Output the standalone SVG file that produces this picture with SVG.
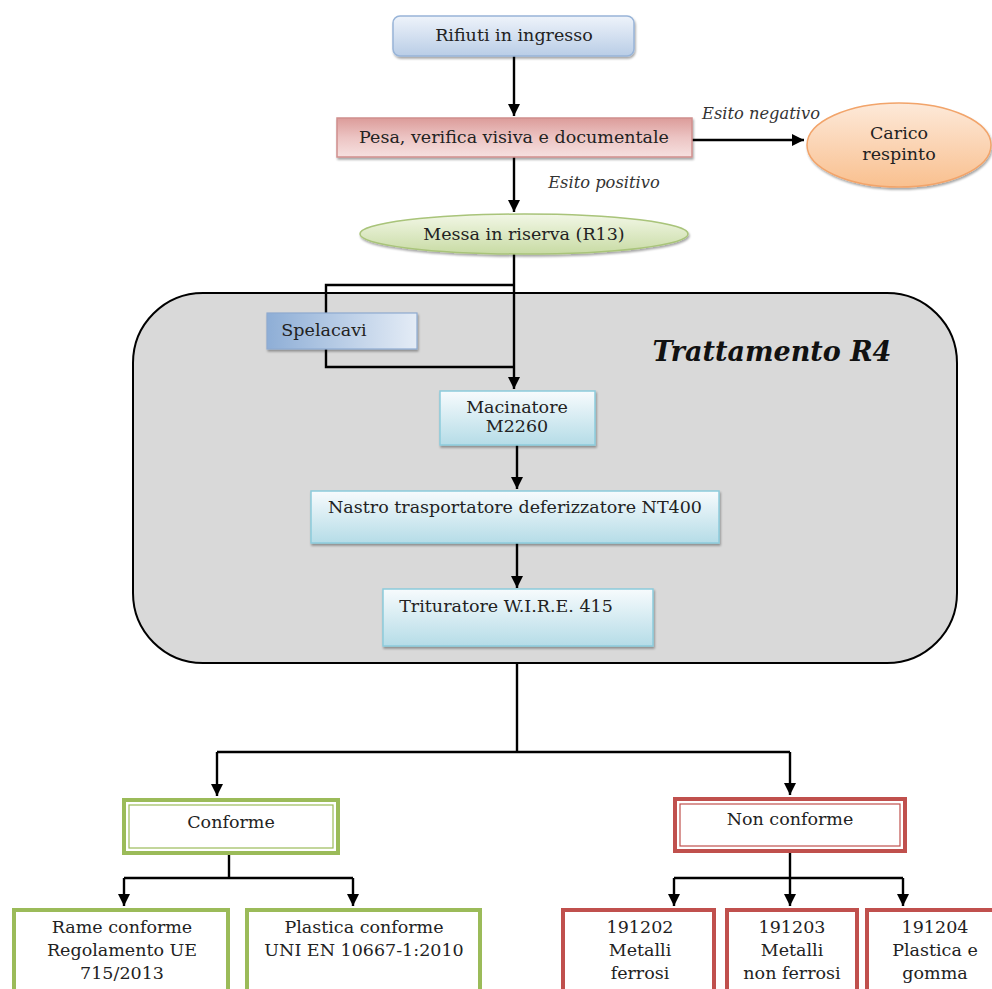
<svg xmlns="http://www.w3.org/2000/svg" width="992" height="989" viewBox="0 0 992 989">
<defs>
<linearGradient id="gBlue" x1="0" y1="0" x2="0" y2="1"><stop offset="0" stop-color="#eef3fa"/><stop offset="1" stop-color="#b9cde6"/></linearGradient>
<linearGradient id="gRed" x1="0" y1="0" x2="0" y2="1"><stop offset="0" stop-color="#dc9c9a"/><stop offset="0.5" stop-color="#ecc4c3"/><stop offset="1" stop-color="#f6e1e0"/></linearGradient>
<linearGradient id="gOrange" x1="0" y1="0" x2="0" y2="1"><stop offset="0" stop-color="#fde9d9"/><stop offset="1" stop-color="#f9c08f"/></linearGradient>
<linearGradient id="gGreen" x1="0" y1="0" x2="0" y2="1"><stop offset="0" stop-color="#f2f7e6"/><stop offset="1" stop-color="#c8dba4"/></linearGradient>
<linearGradient id="gSpel" x1="0" y1="0" x2="1" y2="0"><stop offset="0" stop-color="#8eaed6"/><stop offset="1" stop-color="#e4ecf6"/></linearGradient>
<linearGradient id="gCyan" x1="0" y1="0" x2="0" y2="1"><stop offset="0" stop-color="#f7fbfd"/><stop offset="1" stop-color="#b5dce7"/></linearGradient>
<filter id="sh" x="-10%" y="-10%" width="120%" height="140%"><feDropShadow dx="1" dy="2" stdDeviation="1" flood-color="#000" flood-opacity="0.35"/></filter>
<marker id="ar" viewBox="0 0 10 10" refX="10" refY="5" markerWidth="5" markerHeight="5" orient="auto" markerUnits="strokeWidth"><path d="M0,0 L10,5 L0,10 z" fill="#000"/></marker>
</defs>
<style>
text{font-family:"DejaVu Serif","Liberation Serif",serif;fill:#222;font-size:17.5px;text-anchor:middle}
.it{font-style:italic;font-size:16.3px;fill:#333}
.big{font-weight:bold;font-style:italic;font-size:27px;fill:#111}
.ln{fill:none;stroke:#000;stroke-width:2.4}
.cyan{fill:url(#gCyan);stroke:#8ccbdc;stroke-width:1.5}
.gr{fill:#fff;stroke:#9bbb59;stroke-width:4}
.rd{fill:#fff;stroke:#c0504d;stroke-width:4}
</style>
<rect width="992" height="989" fill="#fff"/>
<g id="trattamento">
<rect x="133" y="293" width="824" height="370" rx="70" ry="70" fill="#d9d9d9" stroke="#000" stroke-width="2"/>
<text class="big" x="772" y="361">Trattamento R4</text>
</g>
<g id="connectors">
<path class="ln" d="M514,56 V116" marker-end="url(#ar)"/>
<path class="ln" d="M692,140 H804" marker-end="url(#ar)"/>
<path class="ln" d="M514,157 V212" marker-end="url(#ar)"/>
<path class="ln" d="M514,254 V389" marker-end="url(#ar)"/>
<path class="ln" d="M514,285 H326 V367 H514"/>
<path class="ln" d="M517,445 V489" marker-end="url(#ar)"/>
<path class="ln" d="M517,543 V588" marker-end="url(#ar)"/>
<path class="ln" d="M517,663 V752"/>
<path class="ln" d="M217,752 H790"/>
<path class="ln" d="M217,752 V796" marker-end="url(#ar)"/>
<path class="ln" d="M790,752 V795" marker-end="url(#ar)"/>
<path class="ln" d="M229,855 V878"/>
<path class="ln" d="M124,878 H353"/>
<path class="ln" d="M124,878 V906" marker-end="url(#ar)"/>
<path class="ln" d="M353,878 V906" marker-end="url(#ar)"/>
<path class="ln" d="M790,853 V906" marker-end="url(#ar)"/>
<path class="ln" d="M674,878 H903"/>
<path class="ln" d="M674,878 V906" marker-end="url(#ar)"/>
<path class="ln" d="M903,878 V906" marker-end="url(#ar)"/>
<text class="it" x="761" y="119">Esito negativo</text>
<text class="it" x="604" y="188">Esito positivo</text>
</g>
<g id="rifiuti">
<rect x="393" y="16" width="241" height="40" rx="7" fill="url(#gBlue)" stroke="#98b4d8" stroke-width="1.5" filter="url(#sh)"/>
<text x="514" y="41">Rifiuti in ingresso</text>
</g>
<g id="pesa">
<rect x="337" y="118" width="355" height="39" fill="url(#gRed)" stroke="#d08f8d" stroke-width="1.5" filter="url(#sh)"/>
<text x="514" y="143">Pesa, verifica visiva e documentale</text>
</g>
<g id="carico">
<ellipse cx="899" cy="145" rx="92" ry="42" fill="url(#gOrange)" stroke="#f2a46a" stroke-width="1.5" filter="url(#sh)"/>
<text x="899" y="139">Carico</text>
<text x="899" y="160">respinto</text>
</g>
<g id="messa">
<ellipse cx="524" cy="234" rx="164" ry="20" fill="url(#gGreen)" stroke="#a9c47a" stroke-width="1.5" filter="url(#sh)"/>
<text x="524" y="240">Messa in riserva (R13)</text>
</g>
<g id="spelacavi">
<rect x="267" y="313" width="150" height="36" fill="url(#gSpel)" stroke="#8eaad0" stroke-width="1.2" filter="url(#sh)"/>
<text x="324" y="336">Spelacavi</text>
</g>
<g id="macinatore">
<rect class="cyan" x="440" y="391" width="155" height="54" filter="url(#sh)"/>
<text x="517" y="413">Macinatore</text>
<text x="517" y="432">M2260</text>
</g>
<g id="nastro">
<rect class="cyan" x="311" y="491" width="408" height="52" filter="url(#sh)"/>
<text x="515" y="513">Nastro trasportatore deferizzatore NT400</text>
</g>
<g id="trituratore">
<rect class="cyan" x="383" y="589" width="270" height="57" filter="url(#sh)"/>
<text x="506" y="612">Trituratore W.I.R.E. 415</text>
</g>
<g id="conforme">
<rect class="gr" x="124" y="800" width="214" height="53"/>
<rect x="129" y="805" width="204" height="43" fill="none" stroke="#9bbb59" stroke-width="1.2"/>
<text x="231" y="828">Conforme</text>
</g>
<g id="nonconforme">
<rect class="rd" x="675" y="799" width="230" height="52"/>
<rect x="680" y="804" width="220" height="42" fill="none" stroke="#c0504d" stroke-width="1.2"/>
<text x="790" y="825">Non conforme</text>
</g>
<g id="rame">
<rect class="gr" x="14" y="910" width="214" height="90"/>
<text x="122" y="933">Rame conforme</text>
<text x="122" y="956">Regolamento UE</text>
<text x="122" y="979">715/2013</text>
</g>
<g id="plastica">
<rect class="gr" x="247" y="910" width="233" height="90"/>
<text x="364" y="933">Plastica conforme</text>
<text x="364" y="956">UNI EN 10667-1:2010</text>
</g>
<g id="c191202">
<rect class="rd" x="563" y="910" width="151" height="90"/>
<text x="640" y="933">191202</text>
<text x="640" y="956">Metalli</text>
<text x="640" y="979">ferrosi</text>
</g>
<g id="c191203">
<rect class="rd" x="727" y="910" width="130" height="90"/>
<text x="792" y="933">191203</text>
<text x="792" y="956">Metalli</text>
<text x="792" y="979">non ferrosi</text>
</g>
<g id="c191204">
<rect class="rd" x="867" y="910" width="140" height="90"/>
<text x="935" y="933">191204</text>
<text x="935" y="956">Plastica e</text>
<text x="935" y="979">gomma</text>
</g>
</svg>
